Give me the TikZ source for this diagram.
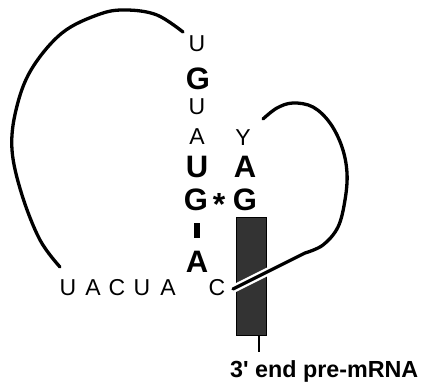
\documentclass[tikz,border=0pt]{standalone}
\usepackage{fontspec}
\setmainfont{Liberation Sans}
\newfontfamily\labfont[Ligatures=TeXOff]{Liberation Sans}
\begin{document}
\begin{tikzpicture}[x=1pt,y=-1pt,
  reg/.style={font=\fontsize{23}{23}\selectfont, anchor=base, inner sep=0pt},
  bld/.style={font=\fontsize{31}{31}\selectfont\bfseries, anchor=base, inner sep=0pt},
  strand/.style={line width=3.3pt, line cap=round}]
\useasboundingbox (0,0) rectangle (421,384);
% left column
\node[reg] (u1) at (197,51) {U};
\node[bld] (g1) at (198,89) {G};
\node[reg] (u2) at (197,114) {U};
\node[reg] (a1) at (197,144) {A};
\node[bld] (u3) at (197,177) {U};
\node[bld] (g2) at (196,210) {G};
\fill (193.5,223) rectangle (199.5,238);
\node[bld] (a2) at (197,272) {A};
% right column
\node[reg] (y1) at (243,145) {Y};
\node[bld] (a3) at (245,177) {A};
\node[bld] (g3) at (245,210) {G};
\node[font=\fontsize{32}{32}\selectfont\bfseries, inner sep=0pt] (ast) at (219,204) {*};
% bottom row
\node[reg] (b1) at (68,295) {U};
\node[reg] (b2) at (93,295) {A};
\node[reg] (b3) at (117,295) {C};
\node[reg] (b4) at (142,295) {U};
\node[reg] (b5) at (168,295) {A};
\node[reg] (b6) at (217,295) {C};
% box
\draw[line width=1pt, fill=black!80] (236,217) rectangle (266,335);
\draw[line width=1.2pt] (259,335) -- (259,352);
\node[font=\labfont\fontsize{23.3}{23.3}\selectfont\bfseries, anchor=base west, inner sep=0pt] (lbl) at (230,377) {3' end pre-mRNA};
% left arc
\draw[strand] plot[smooth, tension=0.6] coordinates {(60,267) (40,240) (22,195) (12,150) (16,110) (31,70) (62,33) (100,14) (127,10) (157,15) (183,32)};
% right loop
\draw[strand] plot[smooth, tension=0.6] coordinates {(263,119) (277,108) (293,103) (313,107) (330,123) (342,147) (347,173) (345,200) (338,227) (323,245) (305,253)};
\draw[white, line width=8pt] (305,253) -- (233,289);
\draw[strand] (305,253) -- (233,289);
\end{tikzpicture}
\end{document}
